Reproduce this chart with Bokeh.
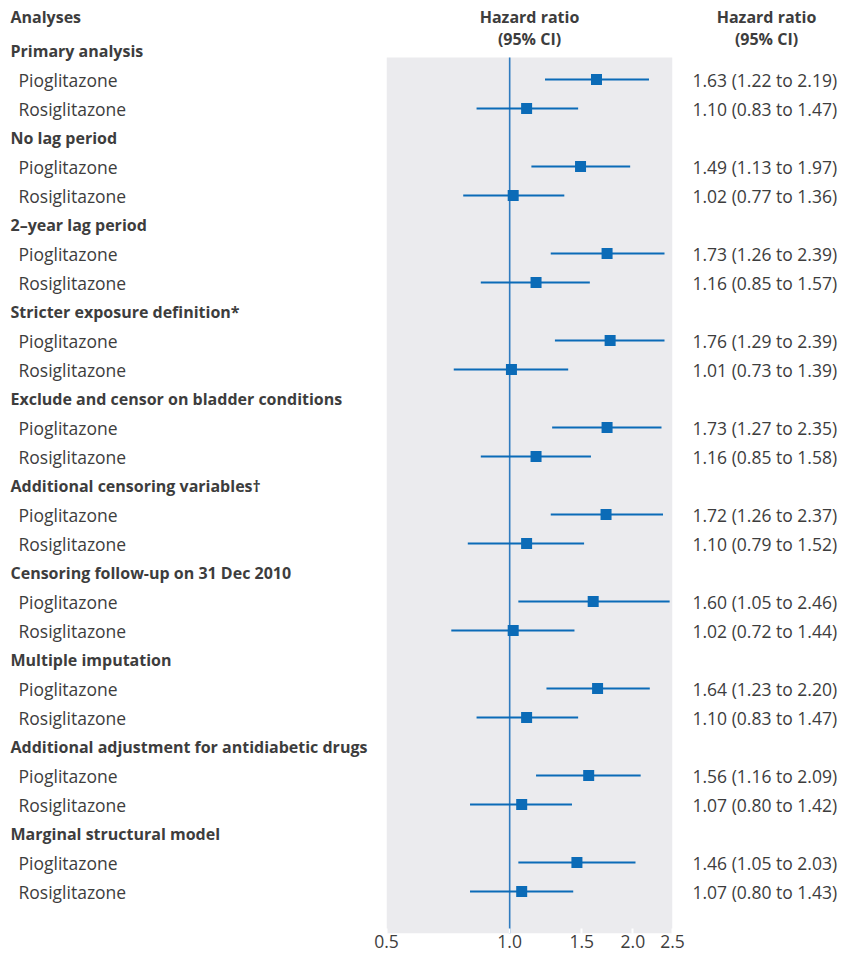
import math
from bokeh.plotting import figure
from bokeh.layouts import row
from bokeh.models import Range1d, FixedTicker, ColumnDataSource
from bokeh.core.properties import value
from bokeh.embed import file_html
from bokeh.resources import INLINE

# ---------------- data ----------------
analyses = [
    "Primary analysis",
    "No lag period",
    "2\u2013year lag period",
    "Stricter exposure definition*",
    "Exclude and censor on bladder conditions",
    "Additional censoring variables\u2020",
    "Censoring follow-up on 31 Dec 2010",
    "Multiple imputation",
    "Additional adjustment for antidiabetic drugs",
    "Marginal structural model",
]
drugs = ["Pioglitazone", "Rosiglitazone"]
pio_hr = [1.63, 1.49, 1.73, 1.76, 1.73, 1.72, 1.60, 1.64, 1.56, 1.46]
pio_lo = [1.22, 1.13, 1.26, 1.29, 1.27, 1.26, 1.05, 1.23, 1.16, 1.05]
pio_hi = [2.19, 1.97, 2.39, 2.39, 2.35, 2.37, 2.46, 2.20, 2.09, 2.03]
rosi_hr = [1.10, 1.02, 1.16, 1.01, 1.16, 1.10, 1.02, 1.10, 1.07, 1.07]
rosi_lo = [0.83, 0.77, 0.85, 0.73, 0.85, 0.79, 0.72, 0.83, 0.80, 0.80]
rosi_hi = [1.47, 1.36, 1.57, 1.39, 1.58, 1.52, 1.44, 1.47, 1.42, 1.43]
x_ticks = [0.5, 1.0, 1.5, 2.0, 2.5]
x_tick_labels = ["0.5", "1.0", "1.5", "2.0", "2.5"]

# ---------------- layout constants ----------------
FONT = "Open Sans"
FS_B = "16px"
FS_R = "17.5px"
TXT = "#3d3d3d"
BLUE = "#0b6bb7"
LINEBLUE = "#2f7bbf"
PANEL = "#ebebee"

ROW_PX = 29.0
FIRST_PX = 50.0      # pixel offset (from figure top) of first row
FRAME_H = 933
Y_TOP = -FIRST_PX / ROW_PX
Y_BOT = (FRAME_H - FIRST_PX) / ROW_PX
PANEL_TOP = (57 - FIRST_PX) / ROW_PX
HDR1 = (16 - FIRST_PX) / ROW_PX
HDR2 = (38 - FIRST_PX) / ROW_PX
BOTTOM = 22
SIDE = 16            # side borders of the forest panel so edge tick labels fit

# rows
head_y, head_txt = [], []
drug_y, drug_txt, hr, lo, hi = [], [], [], [], []
k = 0
for i, a in enumerate(analyses):
    head_y.append(k); head_txt.append(a)
    for d, (h, l, u) in zip(drugs, [(pio_hr[i], pio_lo[i], pio_hi[i]),
                                    (rosi_hr[i], rosi_lo[i], rosi_hi[i])]):
        k += 1
        drug_y.append(k); drug_txt.append(d)
        hr.append(h); lo.append(l); hi.append(u)
    k += 1
ci_txt = [f"{h:.2f} ({l:.2f} to {u:.2f})" for h, l, u in zip(hr, lo, hi)]

yr = Range1d(start=Y_BOT, end=Y_TOP)

def base(w, xr, side=0, **kw):
    p = figure(frame_width=w, frame_height=FRAME_H, x_range=xr, y_range=yr,
               output_backend="svg", toolbar_location=None,
               min_border_left=side, min_border_right=side, min_border_top=0,
               min_border_bottom=BOTTOM, outline_line_color=None,
               background_fill_color="white", border_fill_color="white", **kw)
    p.grid.visible = False
    p.yaxis.visible = False
    return p

# ---------- left column ----------
LW = 386 - SIDE
left = base(LW, Range1d(0, LW))
left.xaxis.visible = False
left.text(x=10, y=[HDR1], text=["Analyses"], text_font=value(FONT),
          text_font_size=FS_B, text_font_style="bold", text_color=TXT,
          text_baseline="middle", text_align="left")
left.text(x=10, y=head_y, text=head_txt, text_font=value(FONT),
          text_font_size=FS_B, text_font_style="bold", text_color=TXT,
          text_baseline="middle", text_align="left")
left.text(x=18, y=drug_y, text=drug_txt, text_font=value(FONT),
          text_font_size=FS_R, text_color=TXT,
          text_baseline="middle", text_align="left")

# ---------- middle (forest) ----------
xmin, xmax = x_ticks[0], x_ticks[-1]
mid = base(286, Range1d(xmin, xmax), side=SIDE, x_axis_type="log")
mid.quad(left=xmin, right=xmax, top=PANEL_TOP, bottom=Y_BOT,
         fill_color=PANEL, line_color=None)
mid.segment(x0=1.0, x1=1.0, y0=PANEL_TOP, y1=Y_BOT, line_color=LINEBLUE,
            line_width=1.6)
src = ColumnDataSource(dict(y=drug_y, hr=hr, lo=lo, hi=hi))
mid.segment(x0="lo", x1="hi", y0="y", y1="y", source=src, line_color=BLUE,
            line_width=2)
mid.scatter(x="hr", y="y", source=src, marker="square", size=11,
            fill_color=BLUE, line_color=None)
xc = math.sqrt(xmin * xmax)
mid.text(x=xc, y=[HDR1, HDR2], text=["Hazard ratio", "(95% CI)"],
         text_font=value(FONT), text_font_size=FS_B, text_font_style="bold",
         text_color=TXT, text_baseline="middle", text_align="center")
ax = mid.xaxis[0]
ax.ticker = FixedTicker(ticks=x_ticks)
ax.major_label_overrides = {t: s for t, s in zip(x_ticks, x_tick_labels)}
ax.axis_line_color = None
ax.major_tick_in = 5
ax.major_tick_out = 0
ax.major_tick_line_color = "white"
ax.major_tick_line_width = 2
ax.minor_tick_line_color = None
ax.major_label_standoff = 1
ax.major_label_text_font = FONT
ax.major_label_text_font_size = FS_R
ax.major_label_text_color = TXT

# ---------- right column ----------
RW = 842 - 672 - SIDE
right = base(RW, Range1d(0, RW))
right.xaxis.visible = False
right.text(x=94 - SIDE, y=[HDR1, HDR2], text=["Hazard ratio", "(95% CI)"],
           text_font=value(FONT), text_font_size=FS_B, text_font_style="bold",
           text_color=TXT, text_baseline="middle", text_align="center")
right.text(x=20 - SIDE, y=drug_y, text=ci_txt, text_font=value(FONT),
           text_font_size=FS_R, text_color=TXT,
           text_baseline="middle", text_align="left")

layout = row(left, mid, right)
open("out.html", "w").write(file_html(layout, INLINE))
